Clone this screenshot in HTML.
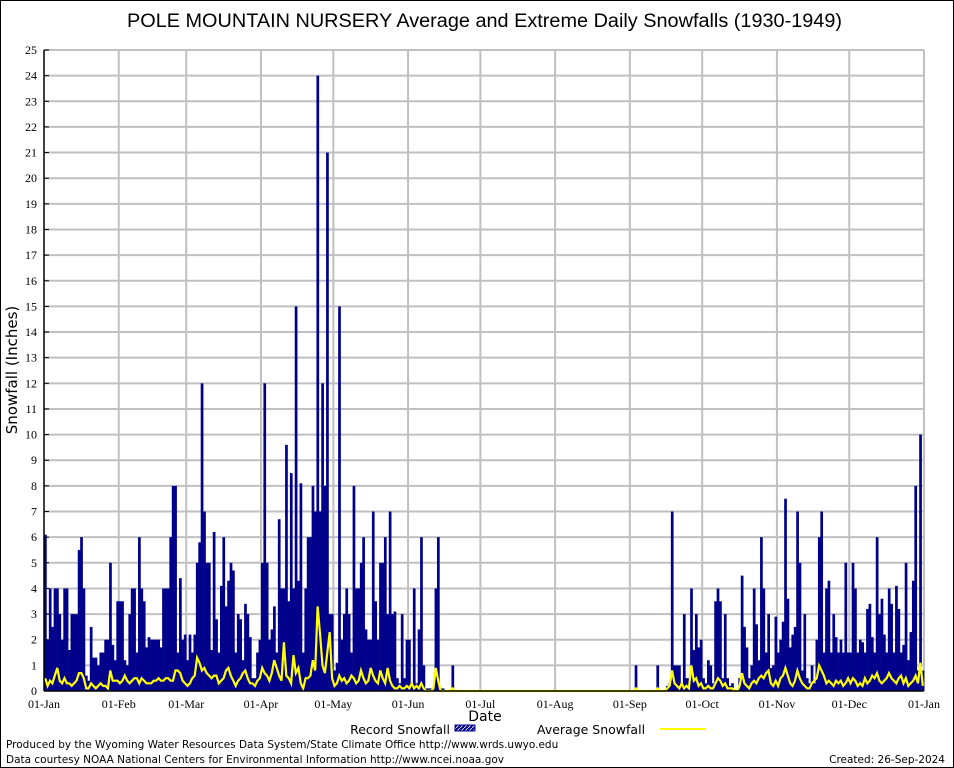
<!DOCTYPE html>
<html><head><meta charset="utf-8"><style>
html,body{margin:0;padding:0;background:#fff}
svg{display:block}
.tk{font-family:"Liberation Serif",serif;font-size:12px;fill:#000}
.sn{font-family:"DejaVu Sans","Liberation Sans",sans-serif;fill:#000}
</style></head><body>
<svg id="chart" width="954" height="768" viewBox="0 0 954 768">
<defs><pattern id="hatch" width="4" height="4" patternUnits="userSpaceOnUse"><rect width="4" height="4" fill="#00008b"/><path d="M0,4 L4,0" stroke="#fff" stroke-width="0.8"/></pattern></defs>
<rect x="0.5" y="0.5" width="953" height="767" fill="#fff" stroke="#000"/>
<text x="127" y="27" textLength="715" lengthAdjust="spacingAndGlyphs" font-family="Liberation Sans, sans-serif" font-size="19">POLE MOUNTAIN NURSERY Average and Extreme Daily Snowfalls (1930-1949)</text>
<g id="grid"></g>
<g id="ylabels"></g>
<g id="xlabels"></g>
<g id="bars"></g>
<polyline id="avgline" fill="none" stroke="#ffff00" stroke-width="2.2"/>
<line x1="44" y1="50" x2="44" y2="691" stroke="#000" stroke-width="1.5"/>
<line x1="44" y1="691" x2="924" y2="691" stroke="#000" stroke-width="1.5"/>
<text transform="translate(17,370) rotate(-90)" text-anchor="middle" class="sn" font-size="15">Snowfall (Inches)</text>
<text x="485" y="721" text-anchor="middle" class="sn" font-size="14">Date</text>
<g>
<text x="450" y="734" text-anchor="end" class="sn" font-size="12.5">Record Snowfall</text>
<rect x="455" y="725" width="20" height="6" fill="url(#hatch)" stroke="#00008b"/>
<text x="537" y="734" class="sn" font-size="12.5">Average Snowfall</text>
<line x1="660" y1="729" x2="706" y2="729" stroke="#ffff00" stroke-width="2"/>
</g>
<text x="6" y="748" class="sn" font-size="10.5">Produced by the Wyoming Water Resources Data System/State Climate Office http://www.wrds.uwyo.edu</text>
<text x="6" y="763" class="sn" font-size="10.5">Data courtesy NOAA National Centers for Environmental Information http://www.ncei.noaa.gov</text>
<text x="945" y="763" text-anchor="end" class="sn" font-size="10.5">Created: 26-Sep-2024</text>
</svg>
<script>
const monthLabels=["01-Jan","01-Feb","01-Mar","01-Apr","01-May","01-Jun","01-Jul","01-Aug","01-Sep","01-Oct","01-Nov","01-Dec","01-Jan"];
const monthStarts=[0,31,59,90,120,151,181,212,243,273,304,334,365];
const yTicks=[0,1,2,3,4,5,6,7,8,9,10,11,12,13,14,15,16,17,18,19,20,21,22,23,24,25];
const recordJanJun=[
6.1,2,4,2.5,4,4,3,2,4,4,
1.6,3,3,3,5.5,6,4,0.6,0.4,2.5,
1.3,1.3,1,1.5,1.5,2,2,5,1.8,1.2,
3.5,3.5,3.5,1.2,1,3,4,4,1.5,6,
4,3.5,1.7,2.1,2,2,2,2,1.7,4,
4,4,6,8,8,1.5,4.4,2,2.2,1.2,
2.2,1.5,2.2,5,5.8,12,7,5,5,1.6,
6.2,2.8,1.5,4.1,6,3.3,4.3,5,4.7,1.5,
3,2.8,1.2,3.4,3,2.1,0.5,0.5,1.5,2,
5,12,5,2,2.4,3.3,1.5,6.7,4,4,
9.6,3.5,8.5,4,15,4.3,8.1,1.5,4,6,
6,8,7,24,7,12,8,21,3,3,
0.8,1.1,15,2,3,4,3,1.5,8,4,
4,5,6,2.4,2,2,7,3.5,2,5,
5,6,3,7,3,3.1,0.5,0.3,3,0.5,
2,2,0.3,4,0.3,2.4,6,1,0.1,0.1,
0.1,0.1,4,6,0.1,0.1,0,0,0,1];
const recordSummer=[0,0,0,0,0,0,0,0,0,0,0,0,0,0,0,0,0,0,0,0,0,0,0,0,0,0,0,0,0,0,0,0,0,0,0,0,0,0,0,0,0,0,0,0,0,0,0,0,0,0,0,0,0,0,0,0,0,0,0,0,0,0,0,0,0,0,0,0,0,0,0,0,0,0,0,
1,0,0,0,0,0,0,0,0,1,0,0,0,0.2,0.3];
const recordSepDec=[
7,1,1,1,0.3,3,0.5,0.5,4,1.6,
3,1.7,2,0.5,0.3,1.2,1,0.3,3.5,4,
3.5,0.5,3,0.5,0.2,0.3,0,0,0.5,4.5,
2.5,1.7,0.5,1,4,2.6,1.2,6,4,1.5,
3,0.9,1,2.9,1.5,2,2.7,7.5,3.6,1.7,
2.2,2.5,7,5,0.8,3,0.5,0.3,1,0.3,
2,6,7,1.5,4,4.3,1.5,3,2.1,1.5,
2,1.5,5,1.5,1.5,5,4,1.5,2,1.9,
1.5,3.2,3.4,2.1,1.5,6,3,3.6,2.2,1.5,
4,3.4,1.5,4.1,3.2,1.5,1.8,5,1.2,2.3,
4.3,8,0.8,10,0.8];
const averageJanJun=[
.5,.2,.4,.3,.6,.9,.4,.3,.5,.3,.3,.2,.3,.4,.7,.7,.5,.1,.1,.3,.2,.1,.2,.3,.2,.2,.1,.8,.4,.4,.4,
.3,.4,.6,.4,.3,.4,.5,.5,.3,.5,.4,.3,.3,.3,.4,.4,.5,.4,.4,.5,.5,.4,.4,.8,.8,.7,.4,.3,
.2,.3,.5,.6,1.3,1.1,.8,.9,.7,.6,.5,.6,.6,.3,.4,.5,.8,.9,.6,.4,.2,.4,.5,.7,.8,.5,.3,.3,.2,.4,.5,
.9,.7,.6,.4,.7,1.2,.9,.6,.4,1.9,.6,.5,.3,1.4,.7,.9,.3,.1,.5,.5,.6,1.2,.8,3.3,2.2,1.0,.7,1.5,2.3,.5,
.2,.3,.6,.4,.5,.3,.4,.6,.5,.3,.4,.8,.5,.3,.4,.9,.6,.4,.3,.8,.5,.3,.9,.4,.2,.1,.1,.2,.1,.1,.2,
.1,.3,.1,.2,.1,.3,.1,0,0,0,.1,.9,.4,0,0,0,0,0,.1];
const averageSummer=[0,0,0,0,0,0,0,0,0,0,0,0,0,0,0,0,0,0,0,0,0,0,0,0,0,0,0,0,0,0,0,0,0,0,0,0,0,0,0,0,0,0,0,0,0,0,0,0,0,0,0,0,0,0,0,0,0,0,0,0,0,0,0,0,0,0,0,0,0,0,0,0,0,0,0,
.1,0,0,0,0,0,0,0,0,.1,0,0,0,.1,.2];
const averageSepDec=[
.8,.3,.2,.1,.3,.1,.2,.1,1,.4,
.5,.2,.3,.1,.1,.2,.1,.1,.3,.5,.4,.2,.3,.1,.1,.1,0,0,.2,.7,.3,.2,.1,.3,.4,.3,.5,.6,.5,.7,
.8,.3,.2,.4,.2,.5,.6,.9,.6,.3,.2,.4,.8,.5,.3,.2,.1,.1,.3,.4,.5,1,.8,.6,.3,.4,.3,.2,.4,.3,
.4,.2,.3,.5,.3,.5,.4,.2,.3,.2,.5,.3,.4,.6,.5,.7,.4,.3,.4,.5,.7,.5,.4,.3,.5,.6,.3,.5,.2,.3,.4,.6,.3,1.1,.2];
const record=recordJanJun.concat(recordSummer,recordSepDec);
const average=averageJanJun.concat(averageSummer,averageSepDec);

const NS="http://www.w3.org/2000/svg";
const X0=44,X1=924,Y0=691,Y1=50,DAYS=365,YMAX=25;
const xs=d=>X0+(X1-X0)*d/DAYS;
const ys=v=>Y0-(Y0-Y1)*v/YMAX;
function mk(tag,attrs,parent){const e=document.createElementNS(NS,tag);for(const k in attrs)e.setAttribute(k,attrs[k]);parent.appendChild(e);return e;}
const grid=document.getElementById('grid');
yTicks.forEach(t=>{
  if(t>0){const l=mk('line',{x1:X0,x2:X1,y1:ys(t),y2:ys(t),stroke:'#c0c0c0','stroke-width':2},grid);
  
  }
  const tk=mk('line',{x1:X0,x2:X0+5,y1:ys(t),y2:ys(t),stroke:'#000'},grid);
  
  
  const tx=mk('text',{x:37,y:ys(t)+4,'text-anchor':'end',class:'tk'},document.getElementById('ylabels'));
  tx.textContent=t;
  
  
});
monthStarts.forEach((d,i)=>{
  if(d>0){const l=mk('line',{x1:xs(d),x2:xs(d),y1:Y1,y2:Y0,stroke:'#c0c0c0','stroke-width':2},grid);
  
  }
  const tx=mk('text',{x:xs(d),y:708,'text-anchor':'middle',class:'tk'},document.getElementById('xlabels'));
  tx.textContent=monthLabels[i];
  
  
});
const bars=document.getElementById('bars');
const bw=(X1-X0)/DAYS;
record.forEach((v,d)=>{
  if(v<=0)return;
  const r=mk('rect',{x:xs(d),y:ys(v),width:bw+0.3,height:Y0-ys(v),fill:'#00008b'},bars);
  
  
});
document.getElementById('avgline').setAttribute('points',average.map((v,d)=>xs(d+0.5).toFixed(1)+','+ys(v).toFixed(1)).join(' '));
</script>
</body></html>
